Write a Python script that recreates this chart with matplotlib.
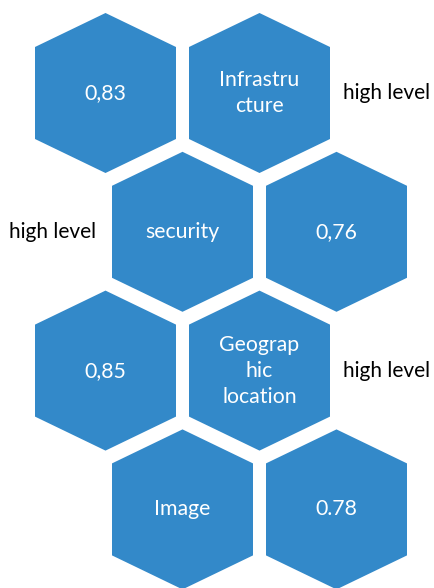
import matplotlib.pyplot as plt
from matplotlib.patches import Polygon

# hexagon labels, row by row (left, right)
labels = [
    ["0,83", "Infrastru\ncture"],
    ["security", "0,76"],
    ["0,85", "Geograp\nhic\nlocation"],
    ["Image", "0.78"],
]
side_notes = ["high level", "high level", "high level", None]
note_side = ["right", "left", "right", None]

blue = '#3389C9'

fig = plt.figure(figsize=(4.34, 5.88), dpi=100)
ax = fig.add_axes([0, 0, 1, 1])
ax.set_xlim(0, 434)
ax.set_ylim(588, 0)
ax.axis('off')

hw, hh, sh = 70.5, 80, 46   # half width, half height, shoulder
x0, dx = 105.5, 154
y0, dy = 93, 138.8

for r, row in enumerate(labels):
    cy = y0 + r * dy
    shift = 77 if r % 2 else 0
    for c, txt in enumerate(row):
        cx = x0 + shift + c * dx
        pts = [(cx, cy - hh), (cx + hw, cy - sh), (cx + hw, cy + sh),
               (cx, cy + hh), (cx - hw, cy + sh), (cx - hw, cy - sh)]
        ax.add_patch(Polygon(pts, closed=True, facecolor=blue, edgecolor='none'))
        ax.text(cx, cy, txt, color='white', fontsize=15.3, family='Lato',
                ha='center', va='center', linespacing=1.38)
    if side_notes[r]:
        x = 343 if note_side[r] == 'right' else 9
        ax.text(x, cy, side_notes[r], fontsize=15, family='Lato',
                ha='left', va='center', color='black')

fig.savefig('out.png', dpi=100)
